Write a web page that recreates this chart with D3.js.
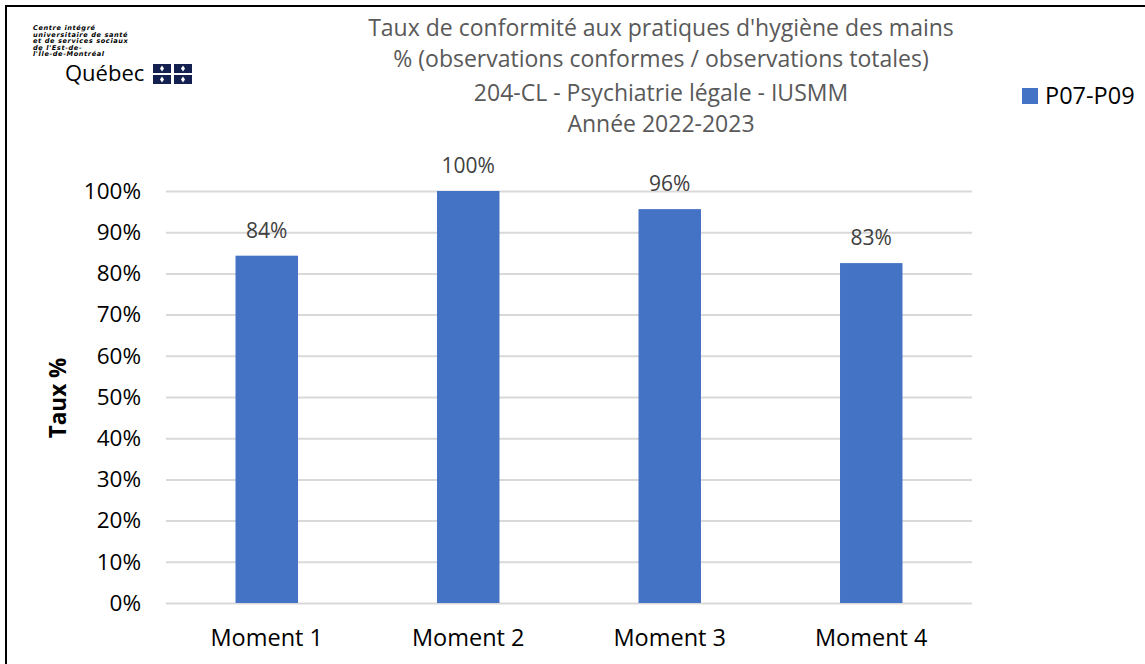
<!DOCTYPE html>
<html>
<head>
<meta charset="utf-8">
<script src="https://cdn.jsdelivr.net/npm/d3@7"></script>
<style>
  body { margin: 0; background: #fff; }
  svg { display: block; font-family: "Open Sans", sans-serif; }
</style>
</head>
<body>
<svg id="chart" width="1145" height="664"></svg>
<script>
const categories = ['Moment 1', 'Moment 2', 'Moment 3', 'Moment 4'];
const values = [0.843, 1.0, 0.956, 0.825];
const valueLabels = ['84%', '100%', '96%', '83%'];
const yTicks = [0, 0.1, 0.2, 0.3, 0.4, 0.5, 0.6, 0.7, 0.8, 0.9, 1.0];
const titleLines = [
  "Taux de conformité aux pratiques d'hygiène des mains",
  '% (observations conformes / observations totales)',
  '204-CL - Psychiatrie légale - IUSMM',
  'Année 2022-2023'
];
const seriesName = 'P07-P09';
const logoLines = ['Centre intégré', 'universitaire de santé', 'et de services sociaux', "de l'Est-de-", "l'Île-de-Montréal"];

const svg = d3.select('#chart');
const barColor = '#4472c4';

// frame
svg.append('rect')
  .attr('x', 6).attr('y', 6)
  .attr('width', 1200).attr('height', 700)
  .attr('fill', 'none')
  .attr('stroke', '#000')
  .attr('stroke-width', 2);

const x = d3.scaleBand()
  .domain(categories)
  .range([166, 972])
  .paddingInner(0.69)
  .paddingOuter(0.345);

const y = d3.scaleLinear()
  .domain([0, 1])
  .range([603, 191]);

// y axis + gridlines
const yAxis = svg.append('g')
  .attr('transform', 'translate(166,0)')
  .call(d3.axisLeft(y)
    .tickValues(yTicks)
    .tickFormat(d3.format('.0%'))
    .tickSize(-806)
    .tickPadding(25));
yAxis.select('.domain').remove();
yAxis.selectAll('line').attr('stroke', '#d9d9d9').attr('stroke-width', 2);
yAxis.selectAll('text')
  .attr('fill', '#000')
  .style('font-size', '22.5px')
  .style('font-family', '"Open Sans", sans-serif');

// x axis
const xAxis = svg.append('g')
  .attr('transform', 'translate(0,603)')
  .call(d3.axisBottom(x).tickSize(0).tickPadding(26));
xAxis.select('.domain').remove();
xAxis.selectAll('text')
  .attr('fill', '#000')
  .style('font-size', '23.5px')
  .style('font-family', '"Open Sans", sans-serif');

// bars
svg.append('g')
  .selectAll('rect')
  .data(values)
  .join('rect')
  .attr('x', (d, i) => x(categories[i]))
  .attr('y', d => y(d))
  .attr('width', x.bandwidth())
  .attr('height', d => y(0) - y(d))
  .attr('fill', barColor);

// data labels
svg.append('g')
  .selectAll('text')
  .data(values)
  .join('text')
  .attr('x', (d, i) => x(categories[i]) + x.bandwidth() / 2)
  .attr('y', d => y(d) - 18)
  .attr('text-anchor', 'middle')
  .attr('fill', '#404040')
  .style('font-size', '21px')
  .text((d, i) => valueLabels[i]);

// y title
svg.append('text')
  .attr('transform', 'translate(66,398) rotate(-90)')
  .attr('text-anchor', 'middle')
  .attr('fill', '#000')
  .style('font-size', '22.5px')
  .style('font-weight', 'bold')
  .text('Taux %');

// title
const titleY = [36, 67, 101, 132];
svg.append('g')
  .selectAll('text')
  .data(titleLines)
  .join('text')
  .attr('x', 661)
  .attr('y', (d, i) => titleY[i])
  .attr('text-anchor', 'middle')
  .attr('fill', '#595959')
  .style('font-size', '23px')
  .text(d => d);

// legend
svg.append('rect')
  .attr('x', 1022).attr('y', 88)
  .attr('width', 16).attr('height', 16)
  .attr('fill', barColor);
svg.append('text')
  .attr('x', 1045).attr('y', 104)
  .attr('fill', '#000')
  .style('font-size', '23.5px')
  .text(seriesName);

// logo
const logo = svg.append('g');
logo.selectAll('text.l')
  .data(logoLines)
  .join('text')
  .attr('class', 'l')
  .attr('x', 33)
  .attr('y', (d, i) => 30 + i * 6.6)
  .attr('fill', '#000')
  .style('font-size', '6.6px')
  .style('letter-spacing', '0.6px')
  .style('font-weight', 'bold')
  .style('font-style', 'italic')
  .style('font-family', '"DejaVu Sans", sans-serif')
  .text(d => d);
logo.append('text')
  .attr('x', 65).attr('y', 81)
  .attr('fill', '#000')
  .style('font-size', '22px')
  .style('font-family', '"Open Sans", sans-serif')
  .text('Québec');
const flags = [[153, 64], [174, 64], [153, 75], [174, 75]];
flags.forEach(([fx, fy]) => {
  logo.append('rect')
    .attr('x', fx).attr('y', fy)
    .attr('width', 18).attr('height', 9)
    .attr('fill', '#14204f');
  logo.append('path')
    .attr('d', `M${fx + 9},${fy + 1.5} L${fx + 11},${fy + 4.5} L${fx + 9},${fy + 7.5} L${fx + 7},${fy + 4.5} Z`)
    .attr('fill', '#fff');
});
</script>
</body>
</html>
